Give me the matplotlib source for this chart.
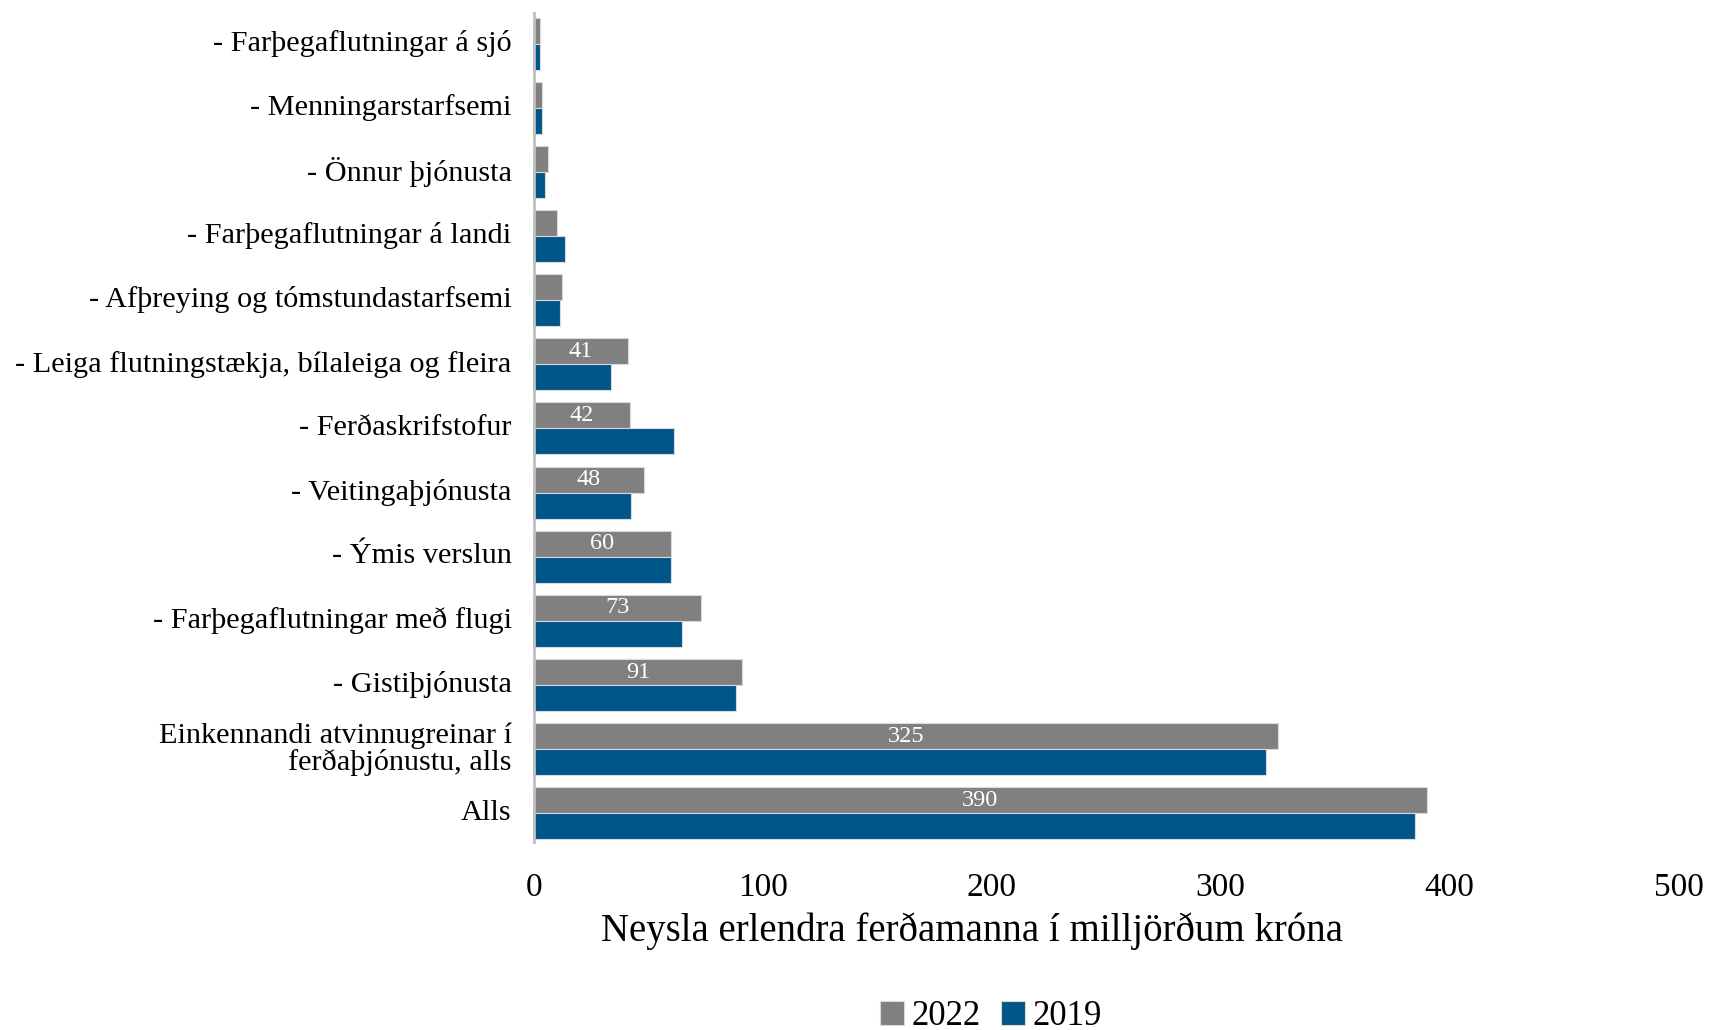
import numpy as np
import matplotlib.pyplot as plt

# Flokkar, ofan frá og niður
flokkar = [
    "- Farþegaflutningar á sjó",
    "- Menningarstarfsemi",
    "- Önnur þjónusta",
    "- Farþegaflutningar á landi",
    "- Afþreying og tómstundastarfsemi",
    "- Leiga flutningstækja, bílaleiga og fleira",
    "- Ferðaskrifstofur",
    "- Veitingaþjónusta",
    "- Ýmis verslun",
    "- Farþegaflutningar með flugi",
    "- Gistiþjónusta",
    "Einkennandi atvinnugreinar í\nferðaþjónustu, alls",
    "Alls",
]
gildi_2022 = [2.5, 3.5, 6.0, 10.3, 12.5, 41, 42, 48, 60, 73, 91, 325, 390]
gildi_2019 = [2.5, 3.5, 4.8, 13.8, 11.5, 33.5, 61.3, 42.4, 60, 64.6, 88.5, 320, 385]
syna_merki = [False] * 5 + [True] * 8

x_ticks = [0, 100, 200, 300, 400, 500]

plt.rcParams['font.family'] = ['Liberation Serif', 'DejaVu Serif']

grar = '#808080'
blar = '#005689'

fig = plt.figure(figsize=(17.11, 10.30), dpi=100)
ax = fig.add_axes([0.312, 0.183, 0.669, 0.804])

idx = np.arange(len(flokkar))
h = 0.405
b22 = ax.barh(idx - h / 2, gildi_2022, height=h, color=grar, edgecolor='#d9d9d9', linewidth=0.8, label='2022')
b19 = ax.barh(idx + h / 2, gildi_2019, height=h, color=blar, edgecolor='#d9d9d9', linewidth=0.8, label='2019')

for rect, v, s in zip(b22, gildi_2022, syna_merki):
    if s:
        ax.text(rect.get_width() / 2, rect.get_y() + rect.get_height() / 2, f"{v:.0f}",
                ha='center', va='center', color='white', fontsize=17.5)

ax.set_ylim(12.44, -0.47)
ax.set_xlim(0, 500)
ax.set_yticks(idx - 0.05)
ax.set_yticklabels(flokkar, fontsize=21.8, linespacing=1.0)
ax.set_xticks(x_ticks)
ax.set_xticklabels([str(t) for t in x_ticks], fontsize=24)
ax.tick_params(axis='y', length=0, pad=16)
ax.tick_params(axis='x', length=0, pad=22)

for s in ['top', 'right', 'bottom']:
    ax.spines[s].set_visible(False)
ax.spines['left'].set_color('#bfbfbf')
ax.spines['left'].set_linewidth(2)

fig.text(0.568, 0.096, "Neysla erlendra ferðamanna í milljörðum króna", ha='center', va='center', fontsize=28)

fig.legend(handles=[b22, b19], labels=['2022', '2019'], loc='center', bbox_to_anchor=(0.579, 0.013),
           ncol=2, frameon=False, fontsize=25, handlelength=0.7, handleheight=0.7,
           handletextpad=0.2, columnspacing=0.6)

fig.savefig('out.png', dpi=100)
